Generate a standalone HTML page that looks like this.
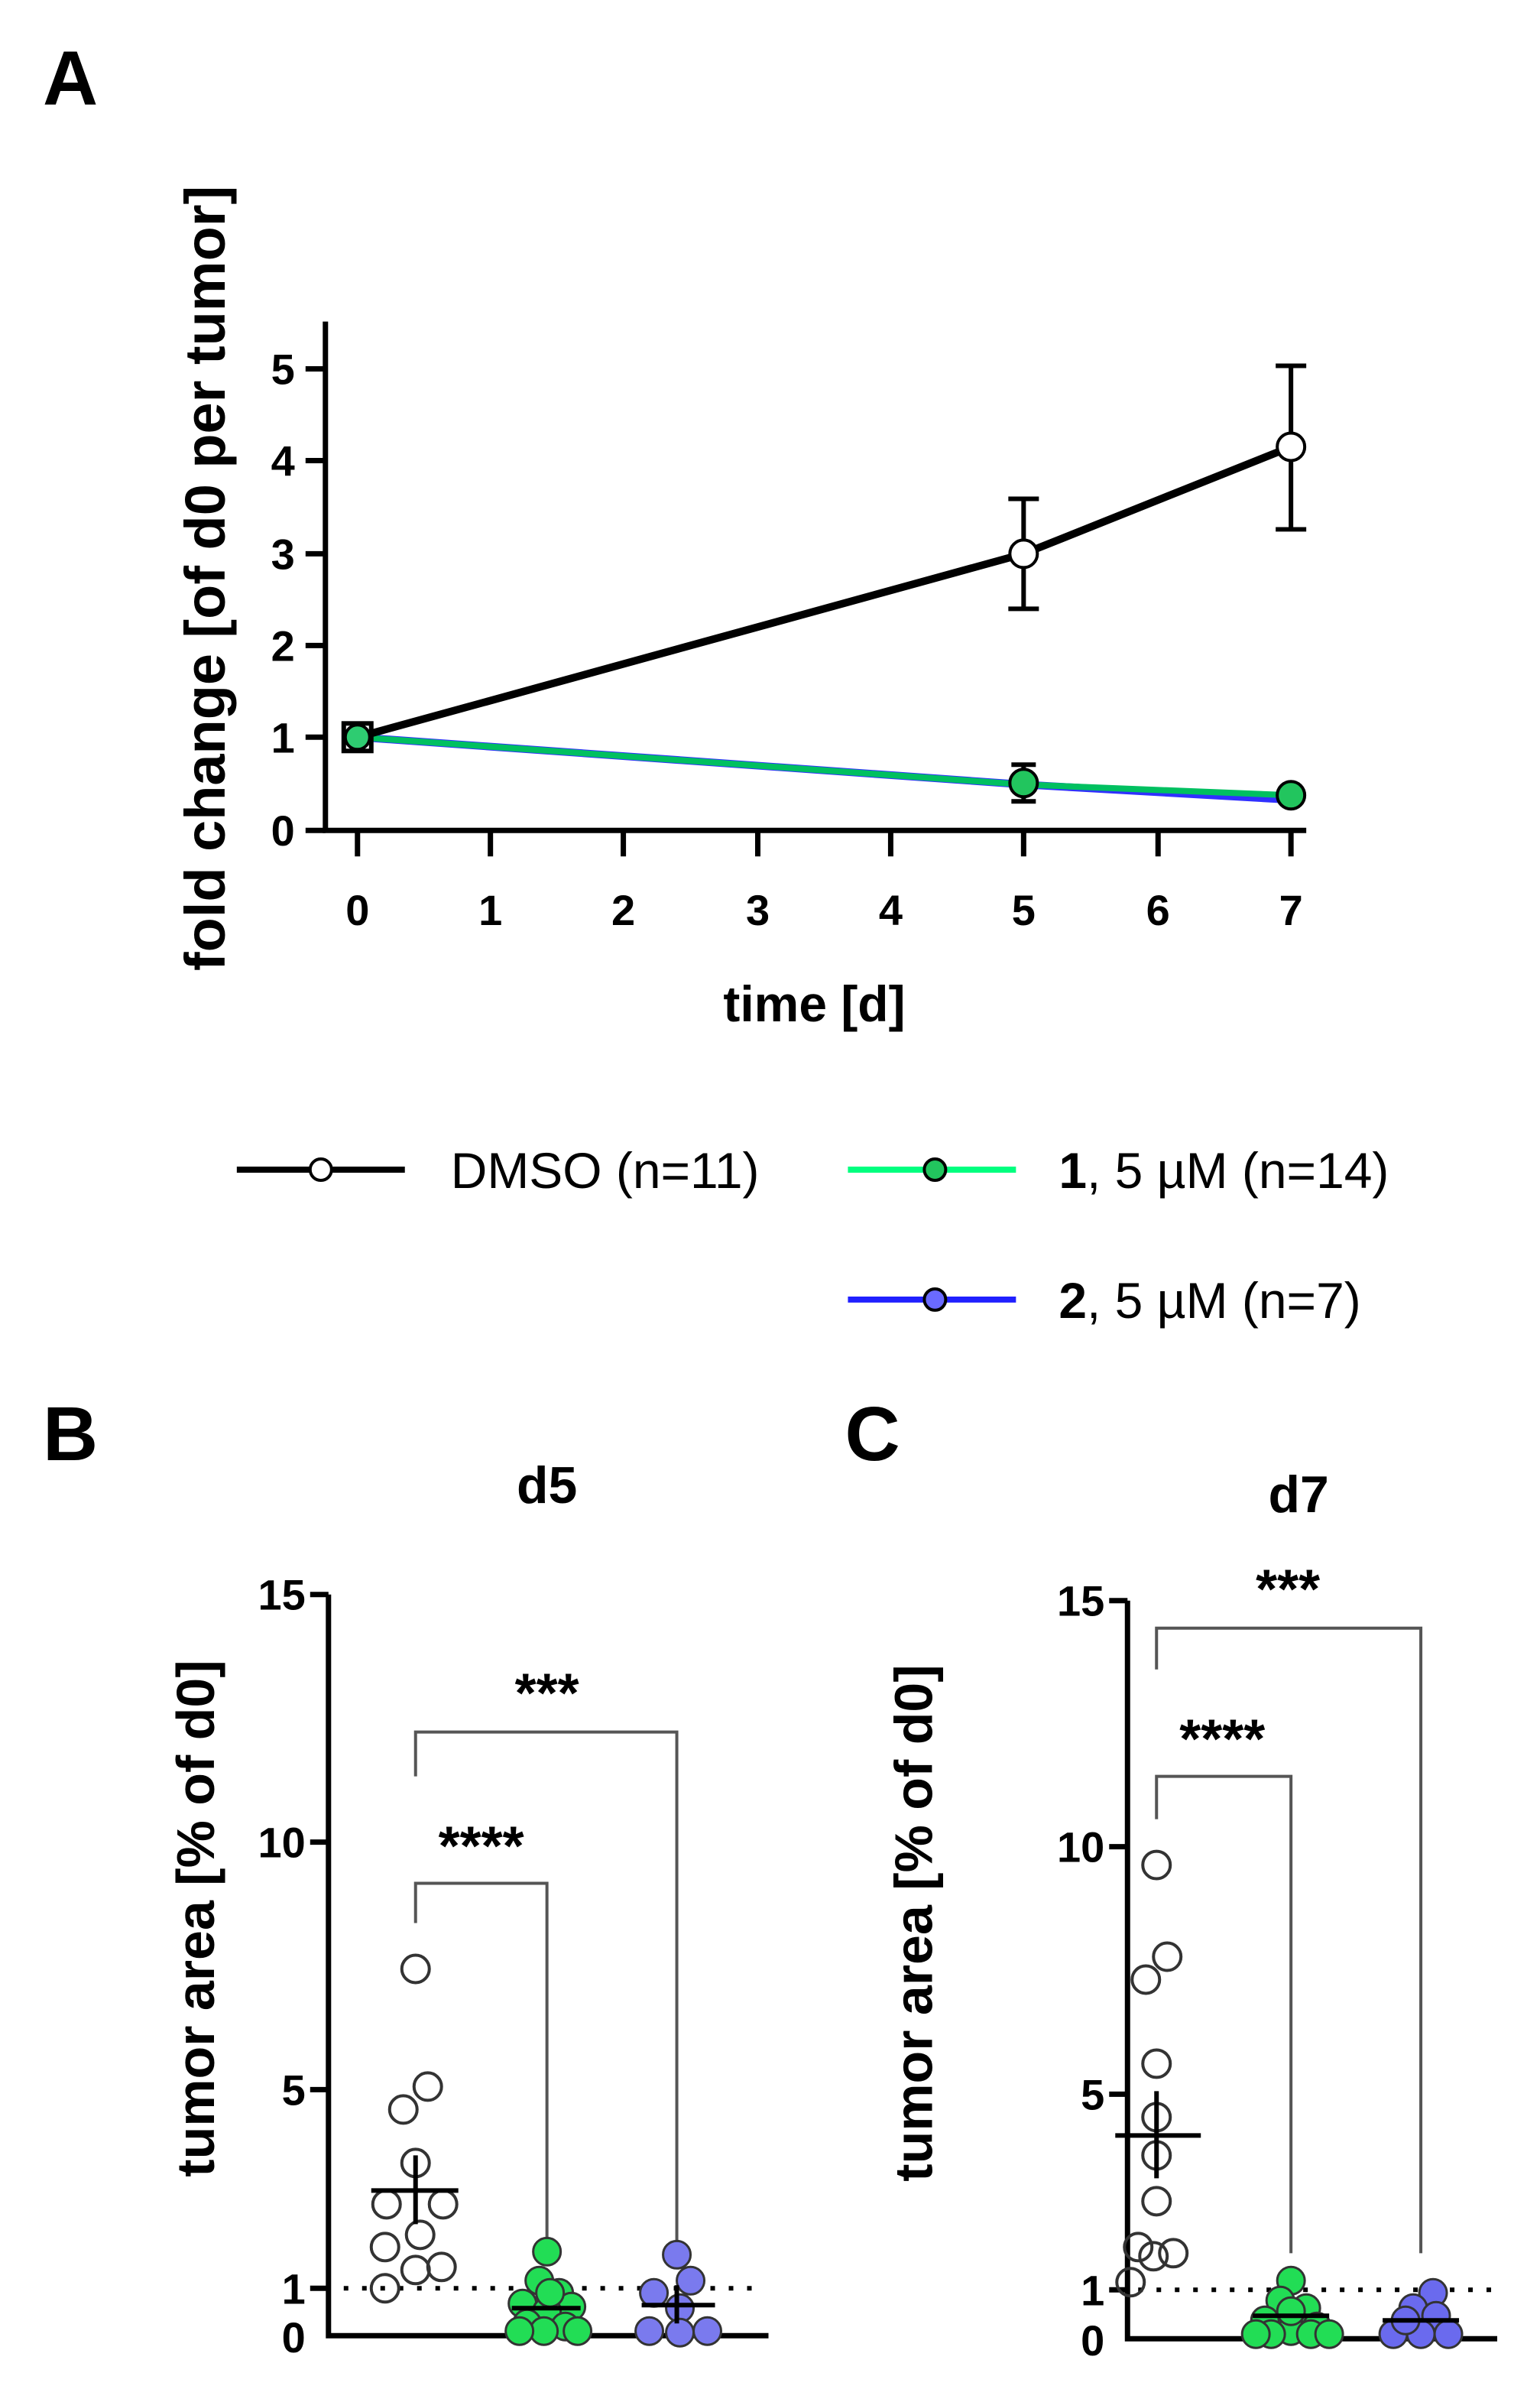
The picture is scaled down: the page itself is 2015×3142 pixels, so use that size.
<!DOCTYPE html>
<html><head><style>html,body{margin:0;padding:0;background:#fff}svg{display:block}</style></head>
<body>
<svg width="2015" height="3142" viewBox="0 0 1008 1571" xmlns="http://www.w3.org/2000/svg" font-family="Liberation Sans, sans-serif">
<rect width="1008" height="1571" fill="#fff"/>
<!-- Panel A -->
<text x="28" y="68" font-size="50" font-weight="bold">A</text>
<g stroke="#000" stroke-width="3.5" fill="none">
<path d="M213 210 V543 H855"/>
<path d="M213 241 H200 M213 301 H200 M213 362 H200 M213 422 H200 M213 482 H200 M213 543 H200"/>
<path d="M234 543 V560 M321 543 V560 M408 543 V560 M496 543 V560 M583 543 V560 M670 543 V560 M758 543 V560 M845 543 V560"/>
</g>
<g font-size="28" font-weight="bold" text-anchor="end">
<text x="193" y="251">5</text><text x="193" y="311">4</text><text x="193" y="372">3</text><text x="193" y="432">2</text><text x="193" y="492">1</text><text x="193" y="553">0</text>
</g>
<g font-size="28" font-weight="bold" text-anchor="middle">
<text x="234" y="605">0</text><text x="321" y="605">1</text><text x="408" y="605">2</text><text x="496" y="605">3</text><text x="583" y="605">4</text><text x="670" y="605">5</text><text x="758" y="605">6</text><text x="845" y="605">7</text>
<text x="533" y="668" font-size="33">time [d]</text>
<text transform="translate(147,378) rotate(-90)" font-size="37">fold change [of d0 per tumor]</text>
</g>
<!-- series -->
<g fill="none" stroke-width="5">
<path d="M234 482 L670 513 L845 523" stroke="#3030ff"/>
<path d="M234 482 L670 513 L845 520" stroke="#00c060" stroke-width="4"/>
<path d="M234 482 L670 362 L845 292" stroke="#000"/>
</g>
<g stroke="#000" stroke-width="3" fill="none">
<path d="M670 326 V398 M660 326 H680 M660 398 H680"/>
<path d="M845 239 V346 M835 239 H855 M835 346 H855"/>
<path d="M670 500 V524 M662 500 H678 M662 524 H678"/>
<rect x="225" y="473" width="18" height="18"/>
</g>
<circle cx="670" cy="362" r="9" fill="#fff" stroke="#000" stroke-width="2"/>
<circle cx="845" cy="292" r="9" fill="#fff" stroke="#000" stroke-width="2"/>
<circle cx="234" cy="482" r="8" fill="#2ecc71" stroke="#000" stroke-width="2"/>
<circle cx="670" cy="512" r="9" fill="#22c55e" stroke="#000" stroke-width="2"/>
<circle cx="845" cy="520" r="9" fill="#22c55e" stroke="#000" stroke-width="2"/>
<!-- legend -->
<path d="M155 765 H265" stroke="#000" stroke-width="4"/>
<circle cx="210" cy="765" r="7" fill="#fff" stroke="#000" stroke-width="2"/>
<text x="295" y="777" font-size="33">DMSO (n=11)</text>
<path d="M555 765 H665" stroke="#00ff7f" stroke-width="4"/>
<circle cx="612" cy="765" r="7" fill="#22c55e" stroke="#000" stroke-width="2"/>
<text x="693" y="777" font-size="33"><tspan font-weight="bold">1</tspan>, 5 µM (n=14)</text>
<path d="M555 850 H665" stroke="#2020ff" stroke-width="4"/>
<circle cx="612" cy="850" r="7" fill="#6a6aff" stroke="#000" stroke-width="2"/>
<text x="693" y="862" font-size="33"><tspan font-weight="bold">2</tspan>, 5 µM (n=7)</text>
<!-- Panel B -->
<text x="28" y="955" font-size="50" font-weight="bold">B</text>
<text x="358" y="983" font-size="34" font-weight="bold" text-anchor="middle">d5</text>
<g stroke="#000" stroke-width="3.5" fill="none">
<path d="M215 1043 V1528 H503"/>
<path d="M215 1043 H203 M215 1205 H203 M215 1367 H203 M215 1497 H203"/>
</g>
<g font-size="28" font-weight="bold" text-anchor="end">
<text x="200" y="1053">15</text><text x="200" y="1215">10</text><text x="200" y="1377">5</text><text x="200" y="1507">1</text><text x="200" y="1539">0</text>
</g>
<text transform="translate(140,1255) rotate(-90)" font-size="35" font-weight="bold" text-anchor="middle">tumor area [% of d0]</text>
<path d="M225 1497 H495" stroke="#000" stroke-width="3" stroke-dasharray="3 9"/>
<g stroke="#555" stroke-width="2" fill="none">
<path d="M272 1162 V1133 H443 V1472"/>
<path d="M272 1258 V1232 H358 V1472"/>
</g>
<text x="358" y="1120" font-size="36" font-weight="bold" text-anchor="middle">***</text>
<text x="315" y="1220" font-size="36" font-weight="bold" text-anchor="middle">****</text>
<g fill="none" stroke="#333" stroke-width="2">
<circle cx="272" cy="1288" r="9"/><circle cx="280" cy="1365" r="9"/><circle cx="264" cy="1380" r="9"/><circle cx="272" cy="1415" r="9"/><circle cx="253" cy="1442" r="9"/><circle cx="290" cy="1442" r="9"/><circle cx="275" cy="1462" r="9"/><circle cx="252" cy="1470" r="9"/><circle cx="289" cy="1483" r="9"/><circle cx="252" cy="1497" r="9"/><circle cx="272" cy="1485" r="9"/>
</g>
<path d="M243 1433 H300 M272 1410 V1455" stroke="#000" stroke-width="3"/>
<g fill="#22dd55" stroke="#333" stroke-width="1.5">
<circle cx="358" cy="1473" r="9"/><circle cx="353" cy="1492" r="9"/><circle cx="366" cy="1500" r="9"/><circle cx="342" cy="1507" r="9"/><circle cx="374" cy="1509" r="9"/><circle cx="358" cy="1512" r="9"/><circle cx="345" cy="1520" r="9"/><circle cx="370" cy="1522" r="9"/><circle cx="356" cy="1525" r="9"/><circle cx="340" cy="1525" r="9"/><circle cx="378" cy="1525" r="9"/><circle cx="360" cy="1500" r="9"/>
</g>
<path d="M335 1510 H380" stroke="#000" stroke-width="3"/>
<g fill="#7a7aee" stroke="#333" stroke-width="1.5">
<circle cx="443" cy="1475" r="9"/><circle cx="452" cy="1492" r="9"/><circle cx="428" cy="1500" r="9"/><circle cx="445" cy="1510" r="9"/><circle cx="425" cy="1525" r="9"/><circle cx="445" cy="1526" r="9"/><circle cx="463" cy="1525" r="9"/>
</g>
<path d="M420 1508 H468 M443 1495 V1520" stroke="#000" stroke-width="3"/>
<!-- Panel C -->
<text x="553" y="955" font-size="50" font-weight="bold">C</text>
<text x="850" y="989" font-size="34" font-weight="bold" text-anchor="middle">d7</text>
<g stroke="#000" stroke-width="3.5" fill="none">
<path d="M738 1047 V1530 H980"/>
<path d="M738 1047 H726 M738 1208 H726 M738 1370 H726 M738 1498 H726"/>
</g>
<g font-size="28" font-weight="bold" text-anchor="end">
<text x="723" y="1057">15</text><text x="723" y="1218">10</text><text x="723" y="1380">5</text><text x="723" y="1508">1</text><text x="723" y="1541">0</text>
</g>
<text transform="translate(610,1258) rotate(-90)" font-size="35" font-weight="bold" text-anchor="middle">tumor area [% of d0]</text>
<path d="M745 1498 H980" stroke="#000" stroke-width="3" stroke-dasharray="3 9"/>
<g stroke="#555" stroke-width="2" fill="none">
<path d="M757 1092 V1065 H930 V1474"/>
<path d="M757 1190 V1162 H845 V1474"/>
</g>
<text x="843" y="1052" font-size="36" font-weight="bold" text-anchor="middle">***</text>
<text x="800" y="1150" font-size="36" font-weight="bold" text-anchor="middle">****</text>
<g fill="none" stroke="#333" stroke-width="2">
<circle cx="757" cy="1220" r="9"/><circle cx="764" cy="1280" r="9"/><circle cx="750" cy="1295" r="9"/><circle cx="757" cy="1350" r="9"/><circle cx="757" cy="1385" r="9"/><circle cx="757" cy="1410" r="9"/><circle cx="757" cy="1440" r="9"/><circle cx="745" cy="1470" r="9"/><circle cx="768" cy="1474" r="9"/><circle cx="740" cy="1493" r="9"/><circle cx="755" cy="1476" r="9"/>
</g>
<path d="M730 1397 H786 M757 1368 V1425" stroke="#000" stroke-width="3"/>
<g fill="#22dd55" stroke="#333" stroke-width="1.5">
<circle cx="845" cy="1492" r="9"/><circle cx="838" cy="1505" r="9"/><circle cx="855" cy="1510" r="9"/><circle cx="828" cy="1518" r="9"/><circle cx="862" cy="1522" r="9"/><circle cx="845" cy="1525" r="9"/><circle cx="832" cy="1527" r="9"/><circle cx="858" cy="1527" r="9"/><circle cx="870" cy="1527" r="9"/><circle cx="822" cy="1527" r="9"/><circle cx="845" cy="1512" r="9"/>
</g>
<path d="M820 1515 H870" stroke="#000" stroke-width="3"/>
<g fill="#6a6aee" stroke="#333" stroke-width="1.5">
<circle cx="938" cy="1500" r="9"/><circle cx="925" cy="1510" r="9"/><circle cx="940" cy="1515" r="9"/><circle cx="912" cy="1527" r="9"/><circle cx="930" cy="1527" r="9"/><circle cx="948" cy="1527" r="9"/><circle cx="920" cy="1518" r="9"/>
</g>
<path d="M905 1518 H955" stroke="#000" stroke-width="3"/>
</svg>
</body></html>
